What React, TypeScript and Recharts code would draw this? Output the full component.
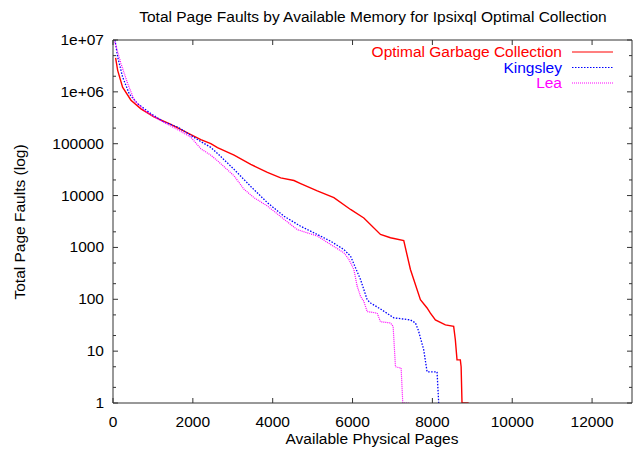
import React from 'react';
import { LineChart, Line, XAxis, YAxis } from 'recharts';

// Optimal Garbage Collection
const ogcX = [65, 117, 240, 450, 700, 1025, 1450, 1950, 2200, 2450, 2617, 3033, 3450, 3867, 4200, 4533, 4700, 5117, 5533, 5950, 6283, 6700, 6950, 7283, 7450, 7533, 7700, 7867, 7950, 8075, 8325, 8533, 8575, 8617, 8700, 8720, 8742, 8908];
const ogcY = [4500000, 2600000, 1230000, 690000, 470000, 330000, 235000, 150000, 120000, 100000, 84000, 60000, 40000, 28000, 22000, 19500, 17000, 12300, 9100, 5400, 3700, 1780, 1540, 1350, 375, 240, 98, 68, 54, 40, 32, 30, 16.6, 6.8, 6.8, 5, 1, 1];

// Kingsley
const kingsleyX = [50, 117, 240, 408, 617, 950, 1283, 1617, 1950, 2200, 2450, 2617, 3033, 3450, 3867, 4283, 4700, 5117, 5450, 5783, 5950, 6200, 6367, 6450, 6700, 7033, 7450, 7575, 7650, 7783, 7867, 8117, 8158];
const kingsleyY = [10000000, 4700000, 1940000, 910000, 590000, 380000, 260000, 210000, 145000, 110000, 85000, 65000, 32000, 15000, 7300, 4000, 2560, 1780, 1320, 910, 680, 240, 98, 85, 65, 44, 40, 35, 25, 10.6, 4, 4, 1];

// Lea
const leaX = [33, 200, 367, 533, 783, 1117, 1450, 1950, 2200, 2450, 2617, 3033, 3283, 3533, 3867, 4283, 4617, 5117, 5450, 5783, 5908, 6033, 6117, 6200, 6283, 6367, 6617, 6700, 6950, 7017, 7075, 7217, 7258, 7408];
const leaY = [10000000, 3500000, 1450000, 690000, 440000, 300000, 220000, 134000, 80000, 60000, 47000, 24000, 13200, 9100, 6300, 3500, 2200, 1660, 1140, 790, 590, 375, 178, 114, 91, 58, 54, 37, 35, 30, 5, 4.7, 1, 1];

const xTicks = [0, 2000, 4000, 6000, 8000, 10000, 12000];
const yMajor = [1, 10, 100, 1000, 10000, 100000, 1000000, 10000000];
const yMinor = [2, 5, 20, 50, 200, 500, 2000, 5000, 20000, 50000, 200000, 500000, 2000000, 5000000];
const yLabels = ['1', '10', '100', '1000', '10000', '100000', '1e+06', '1e+07'];

const toPoints = (xs: number[], ys: number[]) => xs.map((x, i) => ({ x, y: ys[i] }));
const ogcData = toPoints(ogcX, ogcY);
const kingsleyData = toPoints(kingsleyX, kingsleyY);
const leaData = toPoints(leaX, leaY);
const yTicks = [...yMajor, ...yMinor].sort((a, b) => a - b);

const FONT = '"Liberation Sans", Arial, Helvetica, sans-serif';
const AXIS = '#333';
const FS = 15.5;

const majorIndex = (v: number) => {
  const l = Math.log10(v);
  return Math.abs(l - Math.round(l)) < 1e-9 ? Math.round(l) : -1;
};

const LeftTick = (p: any) => {
  const { x, y, payload } = p;
  const mi = majorIndex(payload.value);
  const len = mi >= 0 ? 5 : 3;
  return (
    <g>
      <line x1={x} x2={x + len} y1={y} y2={y} stroke={AXIS} />
      {mi >= 0 && (
        <text x={x - 9} y={y} dy={5} textAnchor="end" fontSize={FS} fontFamily={FONT} fill="#000">
          {yLabels[mi]}
        </text>
      )}
    </g>
  );
};

const RightTick = (p: any) => {
  const { x, y, payload } = p;
  const len = majorIndex(payload.value) >= 0 ? 5 : 3;
  return <line x1={x} x2={x - len} y1={y} y2={y} stroke={AXIS} />;
};

const BottomTick = (p: any) => {
  const { x, y, payload } = p;
  return (
    <g>
      <line x1={x} x2={x} y1={y} y2={y - 5} stroke={AXIS} />
      <text x={x} y={y + 24} textAnchor="middle" fontSize={FS} fontFamily={FONT} fill="#000">
        {payload.value}
      </text>
    </g>
  );
};

const TopTick = (p: any) => {
  const { x, y } = p;
  return <line x1={x} x2={x} y1={y} y2={y + 5} stroke={AXIS} />;
};

const legendItems = [
  { name: 'Optimal Garbage Collection', color: '#ff0000', dash: undefined as string | undefined, y: 52 },
  { name: 'Kingsley', color: '#0000ff', dash: '1.5 1.5', y: 67.5 },
  { name: 'Lea', color: '#ff00ff', dash: '1 1', y: 83 },
];

export default function App() {
  return (
    <div style={{ position: 'absolute', left: 0, top: 0, width: 638, height: 452, background: '#fff' }}>
      <LineChart width={638} height={452} margin={{ top: 30, right: 0, left: 53, bottom: 19 }}>
        <XAxis
          xAxisId="bottom"
          type="number"
          dataKey="x"
          domain={[0, 13000]}
          ticks={xTicks}
          interval={0}
          allowDataOverflow
          height={30}
          tickSize={0}
          tickMargin={0}
          tickLine={false}
          axisLine={{ stroke: AXIS }}
          tick={<BottomTick />}
        />
        <XAxis
          xAxisId="top"
          orientation="top"
          type="number"
          dataKey="x"
          domain={[0, 13000]}
          ticks={xTicks}
          interval={0}
          allowDataOverflow
          height={10}
          tickSize={0}
          tickMargin={0}
          tickLine={false}
          axisLine={{ stroke: AXIS }}
          tick={<TopTick />}
        />
        <YAxis
          yAxisId="left"
          scale="log"
          type="number"
          domain={[1, 10000000]}
          ticks={yTicks}
          interval={0}
          allowDataOverflow
          width={60}
          tickSize={0}
          tickMargin={0}
          tickLine={false}
          axisLine={{ stroke: AXIS }}
          tick={<LeftTick />}
        />
        <YAxis
          yAxisId="right"
          orientation="right"
          scale="log"
          type="number"
          domain={[1, 10000000]}
          ticks={yTicks}
          interval={0}
          allowDataOverflow
          width={6}
          tickSize={0}
          tickMargin={0}
          tickLine={false}
          axisLine={{ stroke: AXIS }}
          tick={<RightTick />}
        />
        <Line xAxisId="bottom" yAxisId="left" data={ogcData} dataKey="y" type="linear" stroke="#ff0000" strokeWidth={1.4} dot={false} isAnimationActive={false} />
        <Line xAxisId="bottom" yAxisId="left" data={kingsleyData} dataKey="y" type="linear" stroke="#0000ff" strokeWidth={1.3} strokeDasharray="1.5 1.5" dot={false} isAnimationActive={false} />
        <Line xAxisId="bottom" yAxisId="left" data={leaData} dataKey="y" type="linear" stroke="#ff00ff" strokeWidth={1.2} strokeDasharray="1 1" dot={false} isAnimationActive={false} />
      </LineChart>
      <svg width={638} height={452} style={{ position: 'absolute', left: 0, top: 0, pointerEvents: 'none' }}>
        <text x={373} y={22} textAnchor="middle" fontSize={FS} fontFamily={FONT} fill="#000">
          Total Page Faults by Available Memory for Ipsixql Optimal Collection
        </text>
        <text x={372} y={444} textAnchor="middle" fontSize={FS} fontFamily={FONT} fill="#000">
          Available Physical Pages
        </text>
        <text x={0} y={0} transform="translate(25,222) rotate(-90)" textAnchor="middle" fontSize={FS} fontFamily={FONT} fill="#000">
          Total Page Faults (log)
        </text>
        {legendItems.map((it) => (
          <g key={it.name}>
            <text x={562} y={it.y + 5} textAnchor="end" fontSize={FS} fontFamily={FONT} fill={it.color}>
              {it.name}
            </text>
            <line x1={572} x2={613} y1={it.y} y2={it.y} stroke={it.color} strokeWidth={1.2} strokeDasharray={it.dash} />
          </g>
        ))}
      </svg>
    </div>
  );
}
